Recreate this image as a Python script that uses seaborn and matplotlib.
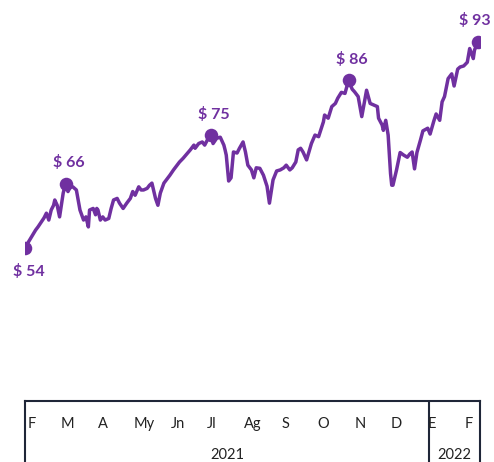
import matplotlib
matplotlib.use("Agg")
import matplotlib.pyplot as plt
import numpy as np
import pandas as pd
import seaborn as sns

# days after 2021-02-01 and price
days = [-3, 1, 6, 8, 11, 13, 15, 17, 19, 21, 22, 24, 26, 29, 31, 33, 35, 37, 40, 43,
        46, 48, 50, 51, 54, 56, 57, 58, 60, 62, 64, 67, 69, 71, 74, 76, 79, 82, 85, 87,
        89, 92, 94, 96, 99, 101, 103, 106, 108, 110, 113, 115, 118, 121, 124, 126, 129, 132, 135, 138,
        139, 142, 145, 147, 150, 152, 154, 157, 160, 163, 164, 165, 167, 169, 171, 174, 176, 179, 181, 183,
        186, 188, 190, 193, 196, 199, 201, 204, 207, 210, 213, 215, 218, 220, 223, 225, 227, 229, 232, 236,
        239, 242, 246, 247, 250, 253, 256, 258, 261, 264, 267, 270, 272, 275, 278, 280, 282, 285, 288, 291,
        292, 295, 296, 298, 300, 302, 303, 304, 307, 310, 313, 316, 318, 320, 322, 324, 327, 329, 333, 335,
        338, 340, 343, 345, 347, 350, 353, 355, 358, 360, 363, 366, 368, 371, 372, 375]
price = [54.0, 55.5, 57.4, 58.0, 59.0, 59.7, 60.6, 59.3, 61.2, 62.1, 63.1, 62.1, 59.9, 64.4, 66.2, 64.7, 65.6, 65.6, 65.0, 61.2,
         59.3, 59.9, 58.0, 61.2, 61.5, 60.3, 61.5, 61.2, 59.3, 59.9, 59.3, 59.6, 61.5, 63.1, 63.4, 62.5, 61.5, 62.5, 63.4, 64.7,
         64.0, 65.6, 65.0, 65.0, 65.3, 65.9, 66.3, 63.4, 62.1, 64.4, 66.3, 66.9, 67.8, 68.8, 69.7, 70.3, 71.0, 71.8, 72.6, 73.5,
         72.9, 73.8, 74.1, 73.5, 74.8, 75.4, 73.8, 74.8, 75.0, 73.5, 72.6, 71.6, 66.7, 67.3, 72.2, 72.0, 72.9, 74.1, 72.2, 69.7,
         68.8, 67.3, 69.2, 69.1, 67.8, 65.7, 62.5, 66.9, 68.6, 68.8, 69.2, 69.7, 68.8, 69.2, 70.3, 72.6, 72.9, 72.2, 70.7, 73.8,
         75.4, 75.1, 77.9, 79.2, 78.6, 80.8, 81.4, 82.4, 83.5, 83.3, 85.8, 84.1, 83.6, 82.7, 78.9, 81.4, 83.9, 81.4, 81.1, 80.8,
         78.6, 77.3, 76.3, 78.2, 75.4, 68.1, 65.9, 65.9, 68.8, 72.1, 71.6, 71.2, 71.8, 72.2, 69.0, 72.1, 74.5, 76.2, 76.7, 75.6,
         78.0, 79.4, 78.2, 81.7, 82.7, 86.1, 87.0, 84.7, 87.9, 88.3, 88.5, 89.2, 91.8, 89.9, 91.5, 93.1]
marked = [0, 14, 65, 110, 155]

months = ["F", "M", "A", "My", "Jn", "Jl", "Ag", "S", "O", "N", "D", "E", "F"]
month_starts = ["2021-02-01", "2021-03-01", "2021-04-01", "2021-05-01", "2021-06-01", "2021-07-01",
                "2021-08-01", "2021-09-01", "2021-10-01", "2021-11-01", "2021-12-01", "2022-01-01",
                "2022-02-01"]
years = ["2021", "2022"]

purple = "#7030A0"
edge = "#1F2638"

base = pd.Timestamp("2021-02-01")
df = pd.DataFrame({"date": base + pd.to_timedelta(days, unit="D"), "price": price})
pts = df.iloc[marked]

sns.set_theme(style="white")
plt.rcParams["font.family"] = ["Lato", "DejaVu Sans"]

fig = plt.figure(figsize=(4.94, 4.62), dpi=100)
W, H = 494, 462
ax = fig.add_axes([25 / W, 62 / H, 455 / W, 400 / H])
xmin = base + pd.Timedelta(days=-2.84)
xmax = base + pd.Timedelta(days=376.6)

sns.lineplot(data=df, x="date", y="price", ax=ax, color=purple, linewidth=2.5)
sns.scatterplot(data=pts, x="date", y="price", ax=ax, color=purple, s=95,
                edgecolor=purple, linewidth=0, zorder=3)
offsets = [(3, -17), (2, 15), (2, 15), (2, 15), (-2, 15)]
for (d, v), (dx, dy) in zip(zip(pts["date"], pts["price"]), offsets):
    ax.annotate(f"$ {v:.0f}", (d, v), xytext=(dx, dy), textcoords="offset points",
                ha="center", va="center", color=purple, fontsize=11.5,
                fontweight="bold", annotation_clip=False)

ax.set_xlim(xmin, xmax)
ax.set_ylim(25.2, 101.0)
ax.set_axis_off()

# category-style axis box at the bottom
bx = fig.add_axes([25 / W, -0.1, 455 / W, 0.1 + (H - 401) / H])
bx.set_xlim(xmin, xmax)
bx.set_ylim(0, 1)
bx.set_xticks([])
bx.set_yticks([])
for side in ["left", "right", "top"]:
    bx.spines[side].set_color(edge)
    bx.spines[side].set_linewidth(1.5)
bx.spines["bottom"].set_visible(False)
sep = pd.Timestamp(month_starts[11])
bx.axvline(sep, color=edge, linewidth=1.5)

def fy(px):
    # figure pixel row -> box axes fraction
    return ((H - px) / H + 0.1) / (0.1 + (H - 401) / H)

for m, s in zip(months, month_starts):
    bx.text(pd.Timestamp(s) - pd.Timedelta(days=1), fy(424), m, ha="left", va="center",
            fontsize=10.5, color="#222222")
bx.text(xmin + (sep - xmin) / 2, fy(455), years[0], ha="center", va="center",
        fontsize=10.5, color="#222222")
bx.text(sep + (xmax - sep) / 2, fy(455), years[1], ha="center", va="center",
        fontsize=10.5, color="#222222")

fig.savefig("out.png", dpi=100)
